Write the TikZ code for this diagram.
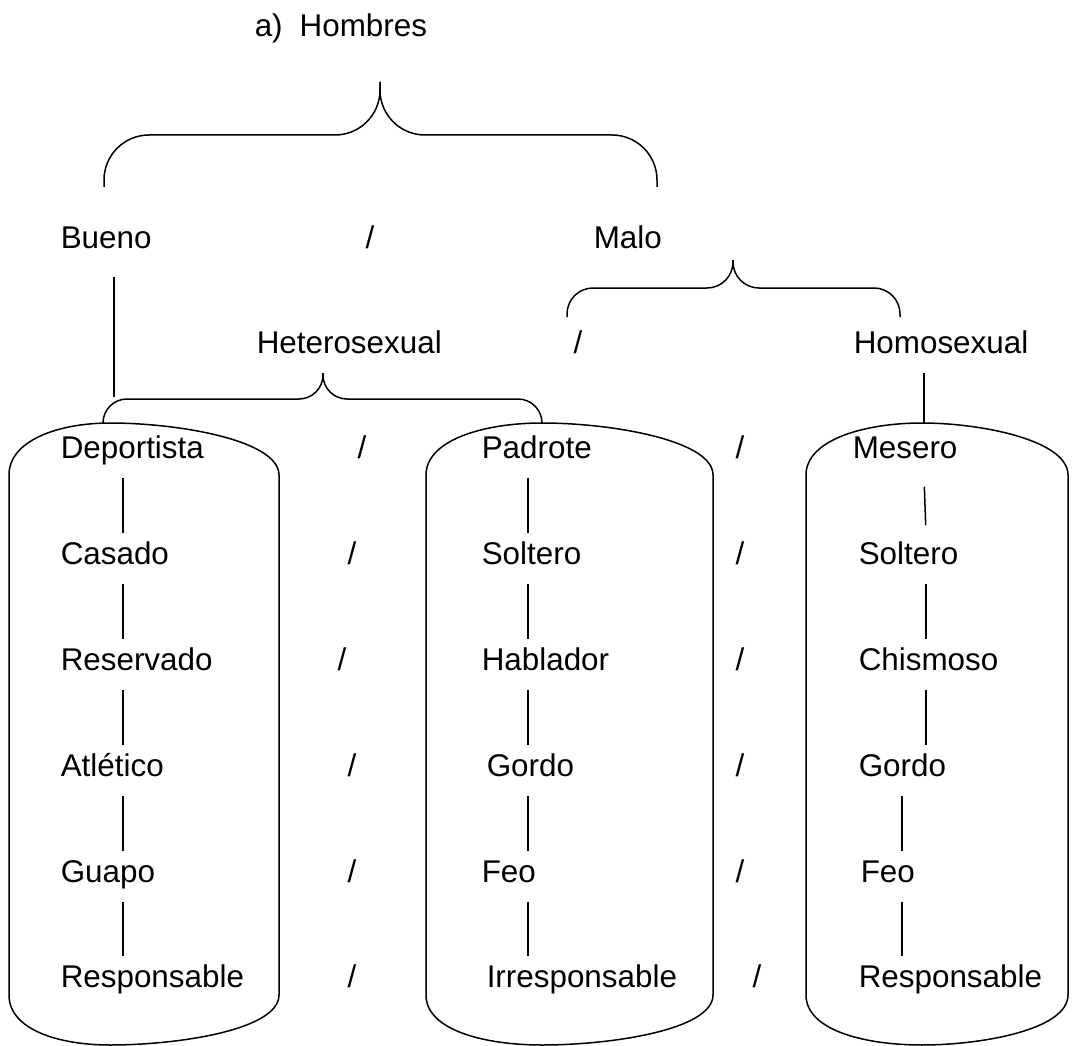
\documentclass[tikz,border=0pt]{standalone}
\usepackage{fontspec}
\setmainfont{Liberation Sans}

% container with curved top and bottom: left x, right x, x of the crest
\newcommand{\canbox}[3]{%
  \draw (#1,475) .. controls (#1,440) and ({#3-0.5*(#3-#1)},423) .. (#3,423)
        .. controls ({#3+0.4*(#2-#3)},423) and (#2,440) .. (#2,475)
        -- (#2,995) .. controls (#2,1030) and ({#3+0.4*(#2-#3)},1045) .. (#3,1045)
        .. controls ({#3-0.5*(#3-#1)},1045) and (#1,1030) .. (#1,995) -- cycle;}

\begin{document}
\begin{tikzpicture}[x=1pt,y=-1pt,line width=1.5pt,
      every node/.style={inner sep=0pt,font=\fontsize{31.4}{36}\selectfont},
      word/.style={anchor=base west,text height=30pt,text depth=19pt},
      slash/.style={anchor=base},
      curly/.style={rounded corners=#1}]
  \useasboundingbox (0,0) rectangle (1072,1046);

  % title and upper splits
  \node[word] (hom) at (254,37) {a)\hspace{17pt}Hombres};
  \node[word] (bue) at (60,248) {Bueno};
  \node[slash] (sa) at (370,248) {/};
  \node[word] (mal) at (593,248) {Malo};
  \node[word] (het) at (256,353) {Heterosexual};
  \node[slash] (sb) at (578,353) {/};
  \node[word] (hms) at (853,353) {Homosexual};

  % containers
  \canbox{9}{279}{110}
  \canbox{426}{713}{542}
  \canbox{806}{1068}{922}

  % first column
  \node[word] (dep) at (60,458) {Deportista};
  \node[word] (cas) at (60,564) {Casado};
  \node[word] (res) at (60,670) {Reservado};
  \node[word] (atl) at (60,776) {Atlético};
  \node[word] (gua) at (60,882) {Guapo};
  \node[word] (rsp) at (60,987) {Responsable};
  \node[slash] (s1) at (362,458) {/};
  \node[slash] (s2) at (352,564) {/};
  \node[slash] (s3) at (342,670) {/};
  \node[slash] (s4) at (352,776) {/};
  \node[slash] (s5) at (352,882) {/};
  \node[slash] (s6) at (352,987) {/};
  % second column
  \node[word] (pad) at (481,458) {Padrote};
  \node[word] (sol) at (481,564) {Soltero};
  \node[word] (hab) at (481,670) {Hablador};
  \node[word] (gor) at (486,776) {Gordo};
  \node[word] (feo) at (481,882) {Feo};
  \node[word] (irr) at (486,987) {Irresponsable};
  \node[slash] (t1) at (740,458) {/};
  \node[slash] (t2) at (740,564) {/};
  \node[slash] (t3) at (740,670) {/};
  \node[slash] (t4) at (740,776) {/};
  \node[slash] (t5) at (740,882) {/};
  \node[slash] (t6) at (757,987) {/};
  % third column
  \node[word] (mes) at (852,458) {Mesero};
  \node[word] (solh) at (858,564) {Soltero};
  \node[word] (chi) at (858,670) {Chismoso};
  \node[word] (gorh) at (858,776) {Gordo};
  \node[word] (feoh) at (860,882) {Feo};
  \node[word] (rsph) at (858,987) {Responsable};

  % braces
  \coordinate (homTip) at (380,82);
  \coordinate (bueEnd) at (104,187);
  \coordinate (malEnd) at (657,187);
  \draw[curly=45] (bueEnd) |- (380,135) -- (homTip);
  \draw[curly=45] (malEnd) |- (380,135) -- (homTip);
  \coordinate (malTip) at (733,260);
  \coordinate (malL) at (567,317);
  \coordinate (malR) at (900,317);
  \draw[curly=26] (malL) |- (733,288) -- (malTip);
  \draw[curly=26] (malR) |- (733,288) -- (malTip);
  \coordinate (hetTip) at (323,373);
  \coordinate (depTop) at (103,423);
  \coordinate (padTop) at (542,423);
  \draw[curly=24] (depTop) |- (323,399) -- (hetTip);
  \draw[curly=24] (padTop) |- (323,399) -- (hetTip);

  % connectors
  \coordinate (bueLine) at (114,397);
  \coordinate (colA) at (123,0);
  \coordinate (colB) at (528,0);
  \coordinate (colC) at (926,0);
  \coordinate (colD) at (902,0);
  \coordinate (colE) at (924,0);
  \draw[shorten <=9pt] (bue.south -| bueLine) -- (bueLine);
  \draw[shorten >=3pt] (hms.south -| colE) -- (mes.north -| colE);
  \draw (dep.south -| colA) -- (cas.north -| colA);
  \draw (cas.south -| colA) -- (res.north -| colA);
  \draw (res.south -| colA) -- (atl.north -| colA);
  \draw (atl.south -| colA) -- (gua.north -| colA);
  \draw (gua.south -| colA) -- (rsp.north -| colA);
  \draw (pad.south -| colB) -- (sol.north -| colB);
  \draw (sol.south -| colB) -- (hab.north -| colB);
  \draw (hab.south -| colB) -- (gor.north -| colB);
  \draw (gor.south -| colB) -- (feo.north -| colB);
  \draw (feo.south -| colB) -- (irr.north -| colB);
  \draw[shorten <=9pt,shorten >=8pt] (mes.south -| colE) -- (solh.north -| colC);
  \draw (solh.south -| colC) -- (chi.north -| colC);
  \draw (chi.south -| colC) -- (gorh.north -| colC);
  \draw (gorh.south -| colD) -- (feoh.north -| colD);
  \draw (feoh.south -| colD) -- (rsph.north -| colD);
\end{tikzpicture}
\end{document}
